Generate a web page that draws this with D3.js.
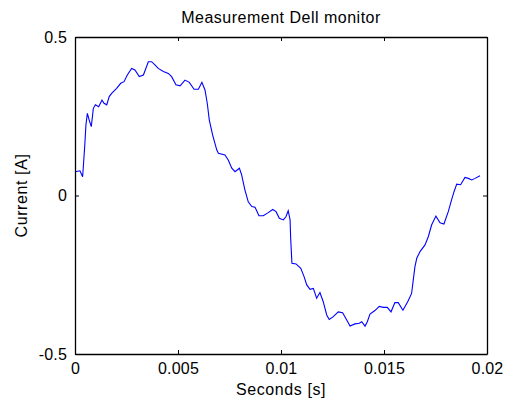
<!DOCTYPE html>
<html>
<head>
<meta charset="utf-8">
<script src="https://cdn.jsdelivr.net/npm/d3@7"></script>
<style>
  body { margin: 0; background: #fff; }
  svg { display: block; font-family: "Liberation Sans", Arial, sans-serif; }
</style>
</head>
<body>
<svg width="505" height="403"></svg>
<script>
// time in seconds, current in ampere
const time = [0, 0.00024, 0.00037, 0.00047, 0.00053, 0.0006, 0.00069, 0.00079, 0.00089, 0.00099,
  0.00115, 0.00131, 0.00141, 0.00154, 0.00166, 0.00178, 0.00202, 0.00222, 0.00238, 0.00254,
  0.00275, 0.00291, 0.00312, 0.00332, 0.00356, 0.00372, 0.00388, 0.00404, 0.00429, 0.00453,
  0.00469, 0.0049, 0.0051, 0.00534, 0.00555, 0.00578, 0.00599, 0.00616, 0.00631, 0.00642,
  0.00652, 0.00668, 0.00688, 0.00696, 0.00728, 0.00744, 0.00761, 0.00777, 0.00798, 0.00809,
  0.00825, 0.00841, 0.00858, 0.00874, 0.00893, 0.00914, 0.00938, 0.0096, 0.00976, 0.00992,
  0.01011, 0.01024, 0.01035, 0.01044, 0.01047, 0.01053, 0.01073, 0.01096, 0.01112, 0.01125,
  0.01141, 0.01157, 0.01173, 0.01189, 0.01205, 0.01222, 0.01234, 0.01254, 0.01278, 0.01299,
  0.01319, 0.01335, 0.01359, 0.0138, 0.01392, 0.01408, 0.01419, 0.01432, 0.01456, 0.01477,
  0.01497, 0.01516, 0.01534, 0.01553, 0.01569, 0.01592, 0.01615, 0.01634, 0.01642, 0.0165,
  0.01659, 0.01675, 0.01699, 0.01715, 0.01731, 0.01752, 0.01772, 0.01791, 0.01812, 0.01828,
  0.0184, 0.01853, 0.01872, 0.01893, 0.01909, 0.01926, 0.01942, 0.01966];
const current = [0.075, 0.078, 0.059, 0.154, 0.222, 0.259, 0.238, 0.217, 0.275, 0.286,
  0.28, 0.301, 0.291, 0.286, 0.312, 0.322, 0.338, 0.354, 0.359, 0.38,
  0.401, 0.396, 0.375, 0.38, 0.422, 0.422, 0.412, 0.401, 0.391, 0.385,
  0.375, 0.349, 0.346, 0.364, 0.357, 0.335, 0.335, 0.357, 0.333, 0.291,
  0.238, 0.191, 0.144, 0.133, 0.128, 0.112, 0.086, 0.075, 0.086, 0.065,
  0.017, -0.02, -0.035, -0.037, -0.064, -0.064, -0.054, -0.044, -0.051, -0.072,
  -0.077, -0.067, -0.048, -0.077, -0.135, -0.214, -0.216, -0.23, -0.256, -0.282,
  -0.296, -0.293, -0.324, -0.306, -0.335, -0.377, -0.391, -0.382, -0.367, -0.37,
  -0.393, -0.412, -0.405, -0.403, -0.398, -0.412, -0.398, -0.374, -0.363, -0.35,
  -0.353, -0.353, -0.367, -0.338, -0.338, -0.362, -0.335, -0.309, -0.267, -0.225,
  -0.198, -0.177, -0.156, -0.13, -0.093, -0.065, -0.086, -0.09, -0.051, -0.014,
  0.012, 0.036, 0.034, 0.057, 0.054, 0.049, 0.054, 0.062];

const xTicks = [0, 0.005, 0.01, 0.015, 0.02];
const yTicks = [-0.5, 0, 0.5];

const svg = d3.select("svg");
const pL = 75, pR = 487, pT = 37, pB = 354;

const x = d3.scaleLinear().domain([0, 0.02]).range([pL, pR]);
const y = d3.scaleLinear().domain([-0.5, 0.5]).range([pB, pT]);

const pts = time.map((t, i) => [t, current[i]]);

svg.append("path")
    .datum(pts)
    .attr("fill", "none")
    .attr("stroke", "#0000ff")
    .attr("stroke-width", 1.1)
    .attr("d", d3.line().x(d => x(d[0])).y(d => y(d[1])));

let fmt = d => d === 0 ? "0" : String(d);

// bottom axis with inward ticks
svg.append("g")
    .attr("transform", "translate(0," + pB + ")")
    .call(d3.axisBottom(x).tickValues(xTicks).tickFormat(fmt).tickSizeInner(-4).tickSizeOuter(0).tickPadding(9));
// top axis
svg.append("g")
    .attr("transform", "translate(0," + pT + ")")
    .call(d3.axisTop(x).tickValues(xTicks).tickFormat("").tickSizeInner(-4).tickSizeOuter(0));
// left axis
svg.append("g")
    .attr("transform", "translate(" + pL + ",0)")
    .call(d3.axisLeft(y).tickValues(yTicks).tickFormat(fmt).tickSizeInner(-4).tickSizeOuter(0).tickPadding(8));
// right axis
svg.append("g")
    .attr("transform", "translate(" + pR + ",0)")
    .call(d3.axisRight(y).tickValues(yTicks).tickFormat("").tickSizeInner(-4).tickSizeOuter(0));

svg.selectAll(".domain").attr("stroke", "#000").attr("stroke-width", 1.3);
svg.selectAll(".tick line").attr("stroke", "#000");
svg.selectAll(".tick text")
    .attr("fill", "#000")
    .style("font-size", "16px")
    .style("letter-spacing", "0.2px")
    .style("font-family", "'Liberation Sans', Arial, sans-serif");

svg.append("text")
    .attr("x", (pL + pR) / 2)
    .attr("y", 23)
    .attr("text-anchor", "middle")
    .style("font-size", "16px")
    .style("letter-spacing", "0.5px")
    .text("Measurement Dell monitor");

svg.append("text")
    .attr("x", (pL + pR) / 2)
    .attr("y", 395)
    .attr("text-anchor", "middle")
    .style("font-size", "16px")
    .style("letter-spacing", "0.6px")
    .text("Seconds [s]");

svg.append("text")
    .attr("transform", "translate(27," + ((pT + pB) / 2) + ") rotate(-90)")
    .attr("text-anchor", "middle")
    .style("font-size", "16px")
    .style("letter-spacing", "0.6px")
    .text("Current [A]");
</script>
</body>
</html>
